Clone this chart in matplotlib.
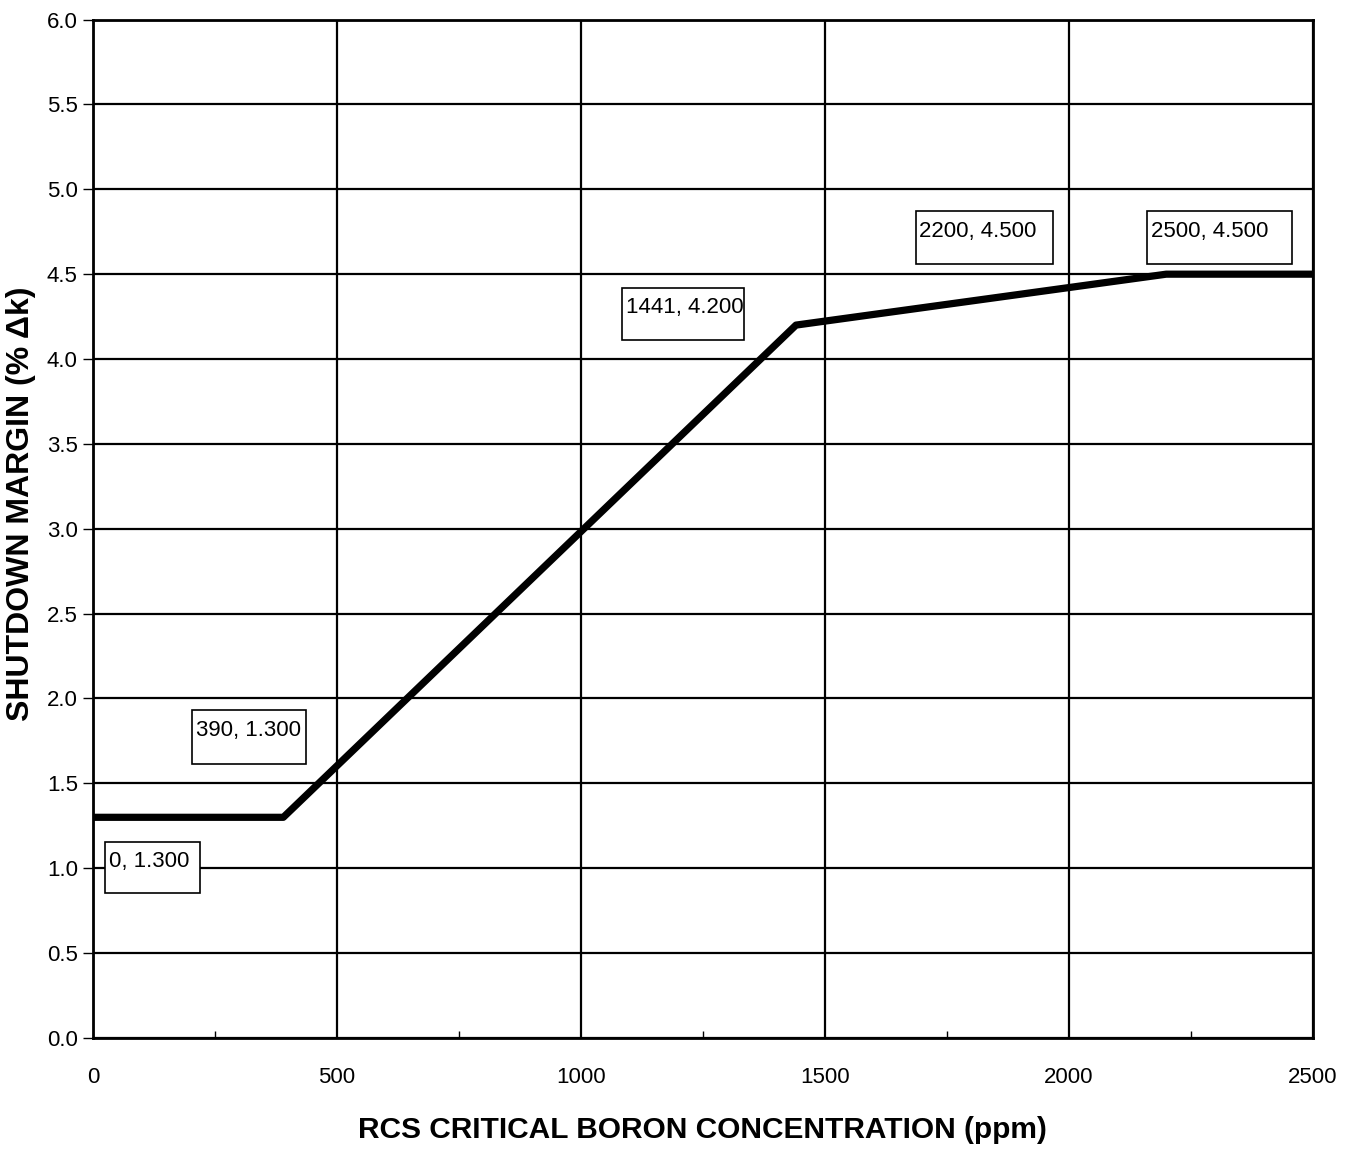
import matplotlib
matplotlib.use('Agg')
import matplotlib.pyplot as plt
from matplotlib.ticker import MultipleLocator, FormatStrFormatter

# breakpoints of the shutdown margin curve
boron_ppm = [0, 390, 1441, 2200, 2500]
margin_pct = [1.300, 1.300, 4.200, 4.500, 4.500]

# label boxes: (text, x, y) of the box's lower-left corner, box width/height
point_labels = ["0, 1.300", "390, 1.300", "1441, 4.200", "2200, 4.500", "2500, 4.500"]
label_boxes = [(25, 0.855, 195, 0.30),
               (203, 1.615, 233, 0.32),
               (1084, 4.11, 250, 0.31),
               (1686, 4.56, 281, 0.31),
               (2160, 4.56, 297, 0.31)]

narrow = ['Liberation Sans Narrow', 'Liberation Sans', 'DejaVu Sans']

fig = plt.figure(figsize=(13.49, 11.52), dpi=100)
ax = fig.add_axes([0.069, 0.099, 0.904, 0.884])

ax.plot(boron_ppm, margin_pct, color='black', linewidth=5.2, solid_capstyle='butt', zorder=3)

ax.set_xlim(0, 2500)
ax.set_ylim(0, 6)
ax.xaxis.set_major_locator(MultipleLocator(500))
ax.xaxis.set_minor_locator(MultipleLocator(250))
ax.yaxis.set_major_locator(MultipleLocator(0.5))
ax.yaxis.set_major_formatter(FormatStrFormatter('%.1f'))
ax.grid(True, which='major', color='black', linewidth=1.6)
ax.tick_params(axis='x', which='major', length=0, pad=21, labelsize=16)
ax.tick_params(axis='x', which='minor', direction='in', length=5, width=1)
ax.tick_params(axis='y', which='major', direction='out', length=7, width=1, pad=4, labelsize=16)
for lab in ax.get_xticklabels() + ax.get_yticklabels():
    lab.set_family(narrow)
for sp in ax.spines.values():
    sp.set_linewidth(2)

for txt, (bx, by, bw, bh) in zip(point_labels, label_boxes):
    ax.add_patch(plt.Rectangle((bx, by), bw, bh, facecolor='white', edgecolor='black',
                               linewidth=1.2, zorder=4))
    ax.text(bx + 8, by + bh * 0.62, txt, fontsize=16, family=narrow,
            ha='left', va='center', zorder=5)

ax.set_xlabel('RCS CRITICAL BORON CONCENTRATION (ppm)', fontsize=21.5, fontweight='bold',
              family=narrow, labelpad=20)
ax.set_ylabel('SHUTDOWN MARGIN (% \u0394k)', fontsize=23, fontweight='bold',
              family=['Liberation Sans', 'DejaVu Sans'])
ax.yaxis.set_label_coords(-0.047, 0.525)

fig.savefig('out.png', dpi=100)
